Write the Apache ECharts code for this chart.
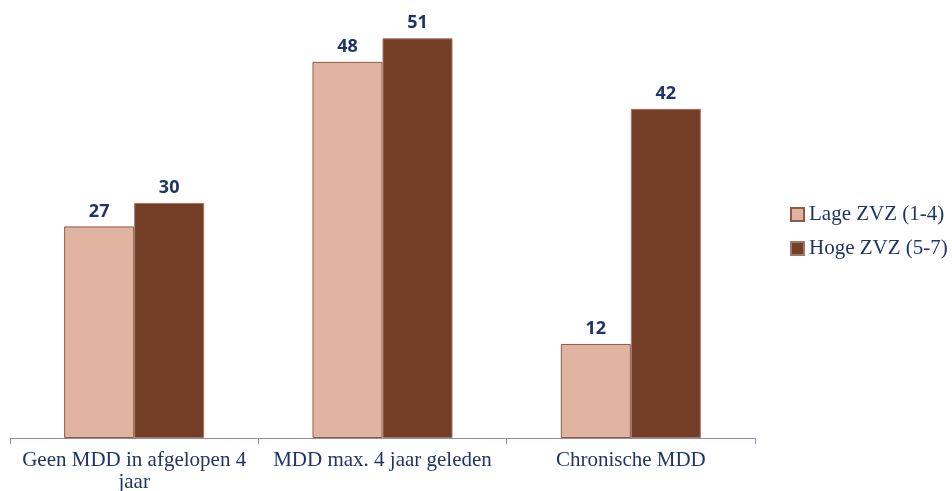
<!DOCTYPE html>
<html>
<head>
<meta charset="utf-8">
<script src="https://cdn.jsdelivr.net/npm/echarts@6/dist/echarts.min.js"></script>
<style>
  html, body { margin: 0; padding: 0; background: #fff; }
  #main { width: 952px; height: 491px; }
</style>
</head>
<body>
<div id="main"></div>
<script>
  // categorieën en waarden
  let categories = ['Geen MDD in afgelopen 4\njaar', 'MDD max. 4 jaar geleden', 'Chronische MDD'];
  let lageZVZ = [27, 48, 12];
  let hogeZVZ = [30, 51, 42];
  let seriesNames = ['Lage ZVZ (1-4)', 'Hoge ZVZ (5-7)'];

  let textColor = '#1f3468';
  let chart = echarts.init(document.getElementById('main'));

  let labelStyle = {
    show: true,
    position: 'top',
    distance: 6,
    color: textColor,
    fontSize: 18,
    fontWeight: 'bold',
    fontFamily: 'Open Sans'
  };

  let option = {
    animation: false,
    grid: { left: 10, right: 197, top: 7, bottom: 53, outerBoundsMode: 'none' },
    legend: {
      orient: 'vertical',
      left: 785,
      top: 199,
      icon: 'rect',
      itemWidth: 13,
      itemHeight: 13,
      itemGap: 13,
      textStyle: { color: textColor, fontSize: 21, fontFamily: 'Liberation Serif' },
      data: seriesNames
    },
    xAxis: {
      type: 'category',
      data: categories,
      axisLine: { lineStyle: { color: '#8c8cb0', width: 1 } },
      axisTick: { show: true, length: 6, lineStyle: { color: '#8c8cb0' } },
      axisLabel: {
        color: textColor,
        fontSize: 21,
        fontFamily: 'Liberation Serif',
        margin: 11,
        lineHeight: 22,
        interval: 0
      }
    },
    yAxis: {
      type: 'value',
      min: 0,
      max: 55,
      show: false,
      splitLine: { show: false }
    },
    series: [
      {
        name: seriesNames[0],
        type: 'bar',
        data: lageZVZ,
        barWidth: 70,
        barGap: '0%',
        itemStyle: { color: '#e0b4a0', borderColor: '#8e5a46', borderWidth: 1 },
        label: labelStyle
      },
      {
        name: seriesNames[1],
        type: 'bar',
        data: hogeZVZ,
        barWidth: 70,
        itemStyle: { color: '#733d26', borderColor: '#a07868', borderWidth: 1 },
        label: labelStyle
      }
    ]
  };
  chart.setOption(option);
</script>
</body>
</html>
